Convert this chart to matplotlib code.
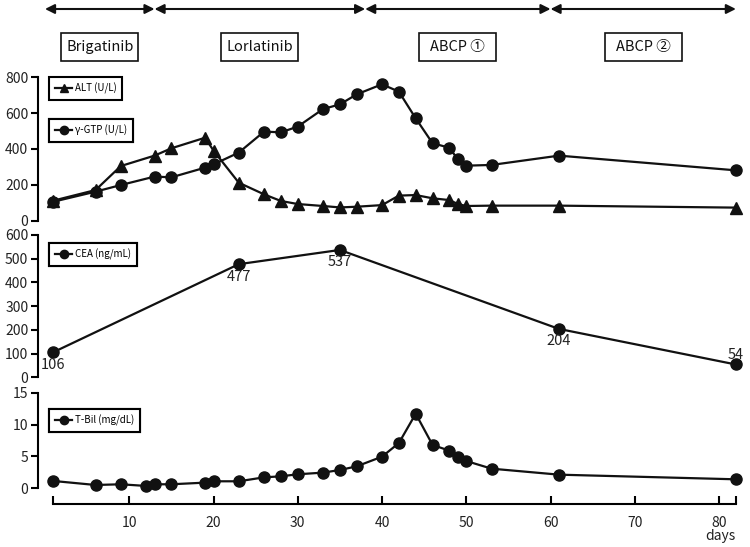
import matplotlib
matplotlib.use("Agg")
import matplotlib.pyplot as plt
from matplotlib.patches import Rectangle
from matplotlib.transforms import blended_transform_factory

plt.rcParams['font.family'] = ['Noto Sans CJK JP', 'DejaVu Sans']

# --- data (days since start) ---
liver_days = [1, 6, 9, 13, 15, 19, 20, 23, 26, 28, 30, 33, 35, 37,
              40, 42, 44, 46, 48, 49, 50, 53, 61, 82]
alt = [112, 171, 305, 363, 404, 463, 391, 212, 147, 110, 93, 82, 74, 78,
       87, 140, 143, 125, 115, 93, 82, 84, 84, 73]
gtp = [106, 162, 199, 246, 242, 296, 314, 380, 497, 493, 525, 623, 649, 705,
       761, 720, 571, 432, 407, 342, 307, 311, 363, 281]

cea_days = [1, 23, 35, 61, 82]
cea = [106, 477, 537, 204, 54]

tbil_days = [1, 6, 9, 12, 13, 15, 19, 20, 23, 26, 28, 30, 33, 35, 37,
             40, 42, 44, 46, 48, 49, 50, 53, 61, 82]
tbil = [1.15, 0.52, 0.63, 0.37, 0.63, 0.63, 0.89, 1.1, 1.1, 1.72, 1.88, 2.2,
        2.46, 2.87, 3.45, 4.96, 7.1, 11.7, 6.8, 5.9, 4.86, 4.28, 3.08, 2.14, 1.41]

phase_edges = [0, 13, 38, 60, 82]
phase_names = ["Brigatinib", "Lorlatinib", "ABCP ①", "ABCP ②"]

x_ticks = [1, 10, 20, 30, 40, 50, 60, 70, 80, 82]
x_labels = ["", "10", "20", "30", "40", "50", "60", "70", "80", ""]

W, H = 750, 547
fig = plt.figure(figsize=(7.5, 5.47), dpi=100)

left, width = 38 / W, 700 / W
xlim = (-0.83, 82.25)
ink = "#111111"
txt = "#222222"


def panel(bottom_px, top_px):
    ax = fig.add_axes([left, (H - bottom_px) / H, width, (bottom_px - top_px) / H])
    ax.set_xlim(*xlim)
    for s in ["top", "right", "bottom"]:
        ax.spines[s].set_visible(False)
    ax.spines["left"].set_linewidth(1.5)
    ax.tick_params(axis="y", direction="out", length=5, width=1.5,
                   labelsize=10, labelcolor=txt, pad=2)
    ax.set_xticks([])
    return ax


line_kw = dict(color=ink, lw=1.6, clip_on=False)

# ALT / gamma-GTP
ax1 = panel(220.7, 77.3)
ax1.set_ylim(0, 800)
ax1.set_yticks([0, 200, 400, 600, 800])
ax1.spines["left"].set_bounds(0, 800)
h_alt, = ax1.plot(liver_days, alt, marker="^", ms=8, label="ALT (U/L)", **line_kw)
h_gtp, = ax1.plot(liver_days, gtp, marker="o", ms=8, label="γ-GTP (U/L)", **line_kw)

# CEA
ax2 = panel(377.3, 235)
ax2.set_ylim(0, 600)
ax2.set_yticks(range(0, 601, 100))
ax2.spines["left"].set_bounds(0, 600)
h_cea, = ax2.plot(cea_days, cea, marker="o", ms=8, label="CEA (ng/mL)", **line_kw)
for d, v in zip(cea_days, cea):
    if v == cea[-1]:
        ax2.annotate(str(v), (d, v), xytext=(0, 2), textcoords="offset points",
                     ha="center", va="bottom", fontsize=10.5, color=txt)
    else:
        ax2.annotate(str(v), (d, v), xytext=(0, -4), textcoords="offset points",
                     ha="center", va="top", fontsize=10.5, color=txt)

# T-Bil
ax3 = panel(488.3, 392.7)
ax3.set_ylim(0, 15)
ax3.set_yticks([0, 5, 10, 15])
ax3.spines["left"].set_bounds(0, 15)
h_tb, = ax3.plot(tbil_days, tbil, marker="o", ms=8, label="T-Bil (mg/dL)", **line_kw)

ax3.spines["bottom"].set_visible(True)
ax3.spines["bottom"].set_linewidth(1.5)
ax3.spines["bottom"].set_position(("outward", 11.3))
ax3.spines["bottom"].set_bounds(1, 82)
ax3.set_xticks(x_ticks)
ax3.set_xticklabels(x_labels)
ax3.tick_params(axis="x", direction="in", length=6, width=1.5,
                labelsize=10, labelcolor=txt, pad=9)
fig.text(80.1, 1 - 536 / H, "days", transform=blended_transform_factory(ax3.transData, fig.transFigure),
         ha="center", va="center", fontsize=10, color=txt)

# legends
leg_kw = dict(loc="upper left", bbox_transform=fig.transFigure, borderaxespad=0,
              fontsize=7, handlelength=1.8, handletextpad=0.25, markerscale=0.75,
              fancybox=False, borderpad=0.6, framealpha=1)
for ax, h, pos in [(ax1, h_alt, (49, 76.7)), (ax1, h_gtp, (49, 119)),
                   (ax2, h_cea, (49, 243)), (ax3, h_tb, (49, 409))]:
    lg = ax.legend(handles=[h], bbox_to_anchor=(pos[0] / W, 1 - pos[1] / H), **leg_kw)
    lg.get_frame().set_edgecolor("black")
    lg.get_frame().set_linewidth(1.5)
    ax.add_artist(lg)

# treatment phases on top
tr = blended_transform_factory(ax1.transData, fig.transFigure)
y_arrow = 1 - 9 / H
for a, b in zip(phase_edges[:-1], phase_edges[1:]):
    ax1.annotate("", xy=(b, y_arrow), xytext=(a, y_arrow), xycoords=tr, textcoords=tr,
                 arrowprops=dict(arrowstyle="<|-|>", color=ink, lw=1.5,
                                 mutation_scale=14, shrinkA=0, shrinkB=0),
                 annotation_clip=False)

box_w, box_h = 9.14, 28 / H
y_box = 1 - 61 / H
for a, b, name in zip(phase_edges[:-1], phase_edges[1:], phase_names):
    xc = (a + b) / 2
    fig.patches.append(Rectangle((xc - box_w / 2, y_box), box_w, box_h, transform=tr,
                                 fill=False, edgecolor=ink, lw=1.2))
    fig.text(xc, y_box + box_h / 2, name, transform=tr, ha="center", va="center",
             fontsize=10.5, color="#111111")

fig.savefig("out.png", dpi=100)
